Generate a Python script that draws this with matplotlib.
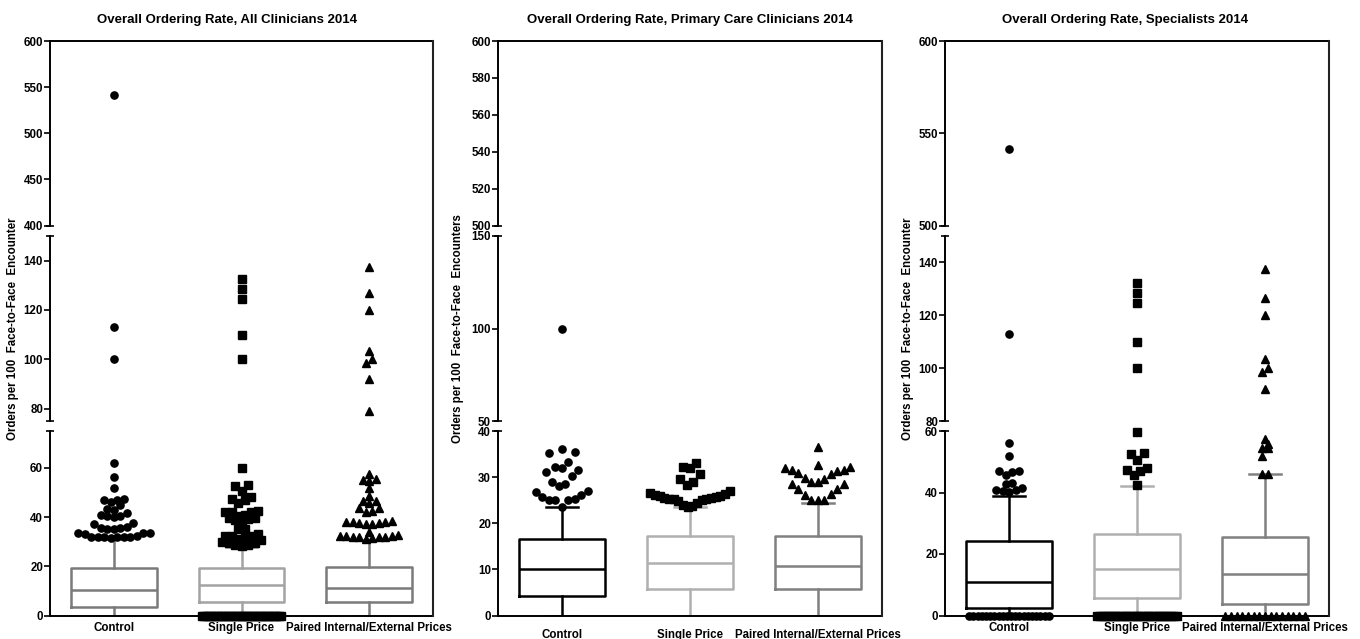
import numpy as np
import matplotlib
matplotlib.use("Agg")
import matplotlib.pyplot as plt
from matplotlib.lines import Line2D

plt.rcParams.update({
    "font.family": ["Liberation Sans", "DejaVu Sans"],
    "font.weight": "bold",
    "font.size": 8.3,
})

groups = ["Control", "Single Price", "Paired Internal/External Prices"]
markers = ["o", "s", "^"]

titles = [
    "Overall Ordering Rate, All Clinicians 2014",
    "Overall Ordering Rate, Primary Care Clinicians 2014",
    "Overall Ordering Rate, Specialists 2014",
]
ylabels = [
    "Orders per 100  Face-to-Face  Encounter",
    "Orders per 100  Face-to-Face  Encounters",
    "Orders per 100  Face-to-Face  Encounter",
]

# broken y axis: segments from top to bottom
seg_limits = [
    [(400, 600), (75, 150), (0, 75)],
    [(500, 600), (50, 150), (0, 40)],
    [(500, 600), (80, 150), (0, 60)],
]
seg_ticks = [
    [[400, 450, 500, 550, 600], [80, 100, 120, 140], [0, 20, 40, 60]],
    [[500, 520, 540, 560, 580, 600], [50, 100, 150], [0, 10, 20, 30, 40]],
    [[500, 550, 600], [80, 100, 120, 140], [0, 20, 40, 60]],
]

box_colors = [
    ["#7a7a7a", "#a3a3a3", "#7a7a7a"],
    ["#000000", "#b0b0b0", "#808080"],
    ["#000000", "#b0b0b0", "#808080"],
]

# box statistics per panel, per group (lower whisker is 0 everywhere)
q1 = [[3.3, 5.5, 5.3], [4.3, 5.7, 5.7], [2.4, 5.6, 3.7]]
med = [[10.2, 12.2, 11.2], [10.0, 11.3, 10.8], [11.0, 15.2, 13.5]]
q3 = [[19.3, 19.4, 19.6], [16.5, 17.3, 17.3], [24.3, 26.4, 25.5]]
whis_hi = [[31.0, 28.0, 30.5], [23.5, 23.5, 24.3], [39.0, 42.1, 46.1]]

# outlying clinicians, all clinicians
all_control = [541.3, 113.0, 100.1, 62.0, 56.1, 51.9, 47.2, 46.8, 46.9, 46.0, 44.8,
               43.1, 42.8, 41.8, 40.6, 40.0, 40.4, 40.9, 37.5, 37.0, 36.0, 35.6,
               35.5, 35.3, 35.3, 33.6, 33.4, 33.3, 33.5, 32.2, 32.0, 31.9, 31.8,
               31.7, 31.8, 32.0, 32.1]
all_single = [132.4, 128.6, 124.5, 109.9, 100.2, 59.8, 53.2, 52.6, 50.7, 48.2, 47.1,
              45.8, 47.3, 42.5, 42.2, 42.0, 41.9, 40.9, 40.5, 39.8, 39.5, 39.0,
              39.2, 37.9, 35.2, 35.1, 33.0, 32.5, 32.2, 32.1, 32.3, 31.3, 30.6,
              29.8, 29.5, 29.4, 28.8, 28.5, 28.3] + [0.0] * 35
all_paired = [137.4, 126.7, 120.0, 103.4, 100.1, 98.4, 92.1, 78.9, 57.7, 55.6, 55.1,
              54.6, 52.0, 48.6, 46.5, 46.4, 45.6, 43.8, 43.6, 42.3, 42.2, 38.2,
              37.9, 37.6, 37.3, 37.1, 37.5, 37.9, 38.3, 34.0, 32.6, 32.4, 32.1,
              31.9, 31.7, 31.8, 32.0, 32.2, 32.5, 31.3]

# primary care clinicians
pc_control = [100.0, 36.0, 35.4, 35.2, 33.3, 32.3, 31.9, 31.5, 31.2, 30.3, 28.9,
              28.5, 28.0, 26.9, 26.8, 26.2, 25.6, 25.2, 25.1, 25.1, 25.0, 23.6]
pc_single = [33.1, 32.3, 32.0, 30.7, 29.5, 28.9, 28.2, 27.0, 26.6, 26.3, 26.2, 25.9,
             25.8, 25.6, 25.5, 25.4, 25.3, 25.3, 25.2, 25.0, 24.8, 24.3, 24.0,
             23.8, 23.6]
pc_paired = [36.6, 32.6, 32.1, 32.0, 31.5, 31.5, 31.4, 30.9, 30.6, 29.8, 29.6, 29.0,
             29.0, 28.6, 28.6, 27.5, 27.5, 26.4, 26.1, 25.1, 25.1, 25.1]

# specialists
sp_control = [541.3, 113.0, 56.1, 51.9, 47.0, 46.9, 46.8, 45.6, 43.2, 42.8, 41.5,
              40.8, 40.7, 40.6, 40.1] + [0.0] * 20
sp_single = [132.4, 128.6, 124.5, 109.9, 100.2, 59.7, 52.9, 52.6, 50.6, 48.1, 47.3,
             47.0, 45.6, 42.4] + [0.0] * 30
sp_paired = [137.4, 126.7, 120.0, 103.4, 100.1, 98.4, 92.1, 57.5, 55.9, 54.6, 54.4,
             52.0, 46.1, 46.1] + [0.0] * 15

outliers = [
    [all_control, all_single, all_paired],
    [pc_control, pc_single, pc_paired],
    [sp_control, sp_single, sp_paired],
]

# layout in pixels
W, H = 1360, 639
panel_x = [(50, 433), (498, 882), (945, 1329)]
seg_y = [(41, 225.5), (236, 421), (431, 615.5)]
title_x = [227, 690, 1125]
ylabel_x = [13, 458, 908]
xlabel_pad = [5, 10, 5]
row_height = [2.6, 3.6, 2.6]   # data units grouped into one scatter row
BOX_W = 0.67
STEP = 6.5


def row_offsets(vals, bin_h, d, lim):
    # Prism-like scatter: values within a row are spread out from the centre,
    # lowest value in the middle
    order = np.argsort(vals, kind="stable")
    offs = np.zeros(len(vals))
    i = 0
    while i < len(order):
        j = i
        while j < len(order) and vals[order[j]] < vals[order[i]] + bin_h:
            j += 1
        idx = order[i:j]
        n = len(idx)
        slots = (np.arange(n) - (n - 1) / 2) * d
        slots = slots[np.argsort(np.abs(slots), kind="stable")]
        if n > 1 and np.abs(slots).max() > lim:
            slots = slots * lim / np.abs(slots).max()
        offs[idx] = slots
        i = j
    return offs


fig = plt.figure(figsize=(W / 100, H / 100), dpi=100)

for p in range(3):
    x0, x1 = panel_x[p]
    axes = []
    for s, (lo, hi) in enumerate(seg_limits[p]):
        yt, yb = seg_y[s]
        ax = fig.add_axes([x0 / W, 1 - yb / H, (x1 - x0) / W, (yb - yt) / H])
        ax.set_xlim(-0.5, 2.5)
        ax.set_ylim(lo, hi)
        ax.patch.set_alpha(0)
        for side in ["top", "right", "bottom", "left"]:
            ax.spines[side].set_visible(False)
        ax.spines["left"].set_visible(True)
        ax.spines["left"].set_linewidth(1.4)
        ax.set_yticks(seg_ticks[p][s])
        # break caps at the cut ends of each segment
        caps = []
        if s > 0:
            caps.append(hi)
        if s < 2:
            caps.append(lo)
        ax.yaxis.remove_overlapping_locs = False
        ax.set_yticks(caps, minor=True)
        ax.tick_params(axis="y", which="major", direction="out", length=4, width=1.2,
                       pad=1, labelsize=8.3)
        ax.tick_params(axis="y", which="minor", direction="inout", length=6, width=1.2)
        if s == 0:
            ax.spines["top"].set_visible(True)
            ax.spines["top"].set_linewidth(1.4)
        if s == 2:
            ax.spines["bottom"].set_visible(True)
            ax.spines["bottom"].set_linewidth(1.4)
            ax.set_xticks([0, 1, 2])
            ax.set_xticklabels(groups, fontweight="bold", fontsize=8.3)
            ax.tick_params(axis="x", length=0, pad=xlabel_pad[p])
        else:
            ax.set_xticks([])
        axes.append(ax)

    # boxes on the lowest segment
    stats = [dict(med=med[p][g], q1=q1[p][g], q3=q3[p][g], whislo=0.0,
                  whishi=whis_hi[p][g], fliers=[]) for g in range(3)]
    bp = axes[2].bxp(stats, positions=[0, 1, 2], widths=BOX_W, showfliers=False,
                     capwidths=0.25, manage_ticks=False)
    for g in range(3):
        c = box_colors[p][g]
        bp["boxes"][g].set(color=c, linewidth=1.8)
        bp["medians"][g].set(color=c, linewidth=1.8)
        for k in (2 * g, 2 * g + 1):
            bp["whiskers"][k].set(color=c, linewidth=1.8)
            bp["caps"][k].set(color=c, linewidth=1.8)

    # outlying points
    px_unit = axes[2].transData.transform((1, 0))[0] - axes[2].transData.transform((0, 0))[0]
    for g in range(3):
        vals = np.array(outliers[p][g], dtype=float)
        seg_of = np.array([next(s for s, (lo, hi) in enumerate(seg_limits[p]) if lo <= v <= hi)
                           for v in vals])
        offs = row_offsets(vals, row_height[p], STEP, 0.31 * px_unit)
        ms = 5.8 if markers[g] == "^" else 5.2
        for s in range(3):
            m = seg_of == s
            if m.any():
                axes[s].plot(g + offs[m] / px_unit, vals[m], ls="none", marker=markers[g],
                             ms=ms, color="black", mec="black", clip_on=False, zorder=6)

    # continuous right border
    fig.add_artist(Line2D([x1 / W, x1 / W], [1 - seg_y[0][0] / H, 1 - seg_y[2][1] / H],
                          color="#222222", linewidth=1.5))

    fig.text(title_x[p] / W, 1 - 20 / H, titles[p], ha="center", va="center",
             fontsize=9.5, fontweight="bold")
    fig.text(ylabel_x[p] / W, 1 - 329 / H, ylabels[p], ha="center", va="center",
             rotation=90, fontsize=8.3, fontweight="bold")

fig.savefig("out.png", dpi=100)
